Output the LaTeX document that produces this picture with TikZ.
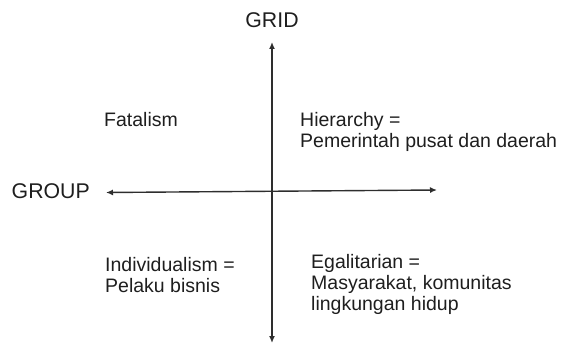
\documentclass[tikz,border=0pt]{standalone}
\usepackage{fontspec}
\setmainfont{Liberation Sans}
\usetikzlibrary{arrows.meta}
\definecolor{ink}{HTML}{1E1E1E}
\definecolor{axis}{HTML}{2E2E2E}
\begin{document}
\begin{tikzpicture}[x=1pt,y=-1pt,
  lbl/.style={anchor=base west,inner sep=0pt,text=ink,font=\fontsize{19.5}{22}\selectfont},
  axlbl/.style={inner sep=0pt,text=ink,font=\fontsize{21.3}{24}\selectfont},
  axisarrow/.style={draw=axis,line width=1.4pt,{Latex[length=7pt,width=6pt]}-{Latex[length=7pt,width=6pt]}}]
\useasboundingbox (0,0) rectangle (561,345);
% axes
\coordinate (top) at (272,42);
\coordinate (bottom) at (272,343);
\coordinate (left) at (106,192.5);
\coordinate (right) at (437,190);
\draw[axisarrow] (bottom) -- (top);
\draw[axisarrow] (left) -- (right);
% axis labels
\node[axlbl,anchor=base] (grid) at (272,28) {GRID};
\node[axlbl,anchor=base west] (group) at (11.5,198) {GROUP};
% quadrant labels
\node[lbl] (fat) at (104,126.5) {Fatalism};
\node[lbl] (hier1) at (300,126) {Hierarchy =};
\node[lbl] (hier2) at (300,147.5) {Pemerintah pusat dan daerah};
\node[lbl] (ind1) at (105,271) {Individualism =};
\node[lbl] (ind2) at (105,292) {Pelaku bisnis};
\node[lbl] (ega1) at (311,268) {Egalitarian =};
\node[lbl] (ega2) at (311,289) {Masyarakat, komunitas};
\node[lbl] (ega3) at (311,310) {lingkungan hidup};
\end{tikzpicture}
\end{document}
